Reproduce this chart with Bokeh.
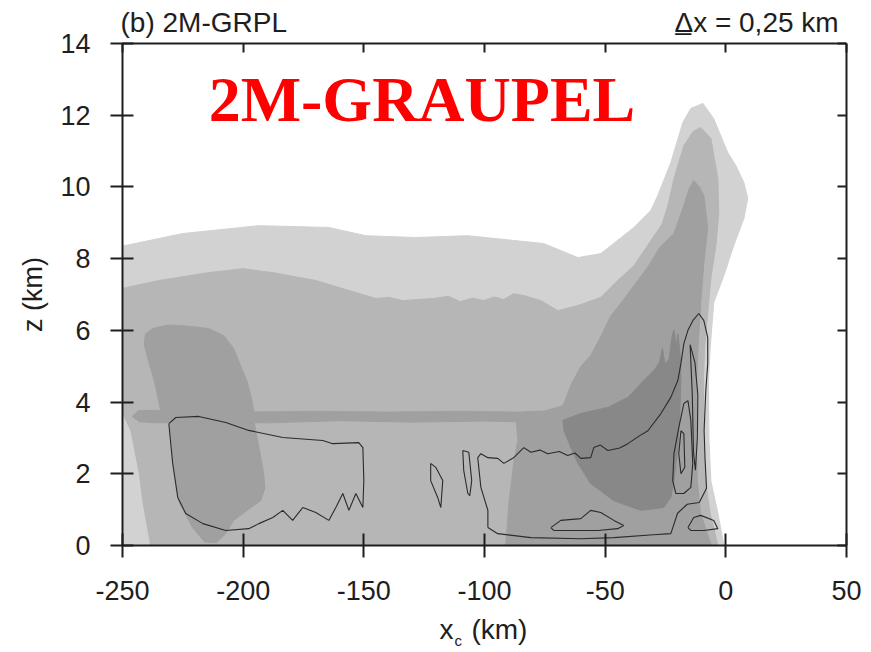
from bokeh.plotting import figure
from bokeh.models import Range1d, FixedTicker, LinearAxis, Label, CustomLabelingPolicy
from bokeh.embed import file_html
from bokeh.resources import INLINE

# ---- axes ----
x_ticks = [-250, -200, -150, -100, -50, 0, 50]
x_tick_labels = ["-250", "-200", "-150", "-100", "-50", "0", "50"]
z_ticks = [0, 2, 4, 6, 8, 10, 12, 14]
z_tick_labels = ["0", "2", "4", "6", "8", "10", "12", "14"]
x_lim = (-250, 50)
z_lim = (0, 14)

# ---- shaded hydrometeor regions (x_c in km, z in km) ----
# lightest shading: outer envelope
light_x = [-250, -250, -225.0, -193.5, -164.5, -149.2, -128.5, -106.9, -75.4, -61.3, -51.8,
           -38.1, -31.1, -28.2, -22.8, -17.8, -14.5, -9.5, -5.0, 0.8, 4.1, 7.5, 9.1, 7.5,
           3.3, -0.8, -5.0, -6.5, -7.2, -7.0, -6.2, -3.3, -0.8]
light_z = [0, 8.35, 8.70, 8.92, 8.87, 8.64, 8.59, 8.64, 8.42, 8.03, 8.14,
           8.87, 9.34, 9.76, 10.68, 11.80, 12.19, 12.33, 11.90, 10.96, 10.60, 10.12, 9.68, 9.12,
           8.37, 7.53, 6.78, 5.5, 4.6, 3.0, 1.8, 0.9, 0]

# second shading
mid_x = [-250, -235.0, -214.3, -200.2, -187.7, -169.9, -156.2, -145.0, -139.7, -133.9, -121.0,
         -115.0, -110.0, -105.0, -100.3, -96.0, -92.0, -88.0, -83.7, -76.7, -69.6, -61.3, -51.8,
         -44.8, -38.1, -31.1, -26.5, -24.0, -21.5, -17.4, -13.5, -10.4, -6.2, -3.3, -2.9, -4.1,
         -6.2, -7.5, -8.8, -9.3, -9.2, -8.5, -6.5, -3.3, -238.3, -241.5, -243.0, -246.5, -250]
mid_z = [7.17, 7.39, 7.61, 7.72, 7.61, 7.39, 7.11, 6.89, 6.92, 6.83, 6.89,
         6.95, 6.80, 6.90, 6.83, 6.93, 6.86, 7.02, 6.97, 6.83, 6.55, 6.69, 6.92,
         7.39, 7.80, 8.50, 8.95, 9.48, 10.23, 11.15, 11.55, 11.66, 11.35, 10.23, 9.29, 8.37,
         7.45, 6.5, 5.5, 4.6, 3.0, 1.8, 0.9, 0, 0, 1.2, 2.0, 3.2, 3.7]

# third shading: upper-left blob, lower-left blob, melting band and leading column
blob_up_x = [-234.0, -236.5, -239.0, -241.0, -240.5, -237.5, -231.0, -225.0, -214.3, -208.0,
             -204.0, -201.0, -198.5, -196.5, -195.5]
blob_up_z = [3.7, 4.5, 5.1, 5.6, 5.9, 6.05, 6.15, 6.13, 6.05, 5.85, 5.5, 5.0, 4.6, 4.1, 3.7]

blob_low_x = [-230.5, -229.5, -228.8, -226.5, -221.0, -216.0, -211.0, -207.0, -204.0, -198.0,
              -192.7, -191.0, -191.5, -192.7, -194.0, -195.6]
blob_low_z = [3.5, 2.8, 2.2, 1.2, 0.5, 0.1, 0.08, 0.35, 0.7, 1.0, 1.25, 1.6, 2.0, 2.45, 2.93, 3.5]

dark_x = [-91.2, -89.9, -87.9, -86.2, -86.8, -100, -130, -160, -190, -215, -235, -243, -246,
          -243.5, -225, -200, -170, -140, -110, -85, -75, -67.5, -64, -60, -56, -52, -47.7, -43,
          -38, -32, -27.5, -21.5, -17.4, -15.2, -13.3, -11.0, -9.1, -7.5, -9.1, -10.4, -11.5,
          -12.2, -12.3, -11.8, -10.5, -6.0]
dark_z = [0, 1.17, 2.29, 2.93, 3.45, 3.47, 3.44, 3.48, 3.42, 3.45, 3.42, 3.45, 3.6,
          3.76, 3.78, 3.72, 3.74, 3.72, 3.74, 3.72, 3.75, 3.9, 4.5, 5.0, 5.3, 5.8, 6.4, 6.8,
          7.25, 7.8, 8.3, 8.7, 9.48, 9.95, 10.18, 10.0, 9.76, 8.84, 7.89, 6.78, 5.5,
          4.5, 3.0, 1.8, 0.9, 0]

# darkest shading: core below the leading edge
core_x = [-67.5, -60.1, -48.9, -40.6, -34.0, -29.8, -27.5, -26.3, -25.2, -23.5, -22.2, -21.5,
          -20.5, -19.8, -18.8, -18.6, -19.2, -19.9, -21.5, -22.8, -25.7, -35.2, -46.4, -56.0,
          -61.3, -64.2, -67.1]
core_z = [3.49, 3.68, 3.85, 4.13, 4.6, 4.88, 5.1, 5.5, 5.05, 5.2, 5.85, 6.0,
          5.6, 5.9, 5.2, 4.6, 3.5, 2.73, 1.81, 1.34, 1.06, 0.98, 1.25, 1.73,
          2.29, 2.73, 3.21]

# ---- contour lines ----
cont_a_x = [-230.8, -227.9, -218.4, -207.2, -197.7, -183.6, -167.0, -162.9, -152.1, -150.4,
            -150.0, -150.4, -153.3, -156.2, -158.7, -161.6, -164.5, -169.9, -175.3, -179.5,
            -183.6, -187.7, -193.5, -197.7, -207.2, -216.7, -223.8, -227.1, -229.2, -230.8]
cont_a_z = [3.40, 3.57, 3.60, 3.43, 3.21, 3.01, 2.93, 2.84, 2.87, 2.73,
            1.81, 1.06, 1.45, 0.98, 1.45, 1.06, 0.70, 0.92, 1.06, 0.70,
            0.98, 0.78, 0.61, 0.47, 0.42, 0.61, 0.89, 1.34, 2.29, 3.40]

cont_b_x = [-122.3, -120.2, -117.3, -118.1, -119.4, -122.3, -122.3]
cont_b_z = [2.29, 2.18, 1.81, 1.06, 1.34, 1.81, 2.29]

cont_c_x = [-109.0, -106.5, -105.3, -106.1, -106.9, -108.6, -109.0]
cont_c_z = [2.65, 2.60, 1.81, 1.39, 1.45, 2.09, 2.65]

cont_d_x = [-98.6, -94.5, -80.8, -60.1, -46.4, -30.0, -22.8, -20.0, -16.0, -11.0, -8.0, -8.6,
            -9.0, -8.3, -7.5, -7.5, -9.1, -11.2, -13.7, -15.7, -17.4, -18.6, -19.9, -22.8,
            -26.9, -32.3, -36.0, -40.6, -44.0, -48.9, -52.0, -54.7, -56.0, -60.1, -62.5, -65.5,
            -69.0, -73.8, -77.0, -80.8, -83.7, -87.9, -92.0, -94.5, -98.6, -101.5, -102.8,
            -101.5, -98.6, -98.6]
cont_d_z = [0.50, 0.33, 0.22, 0.19, 0.22, 0.30, 0.33, 0.90, 1.15, 1.20, 1.60, 2.40,
            3.21, 4.32, 5.08, 5.80, 6.27, 6.47, 6.27, 6.00, 5.63, 5.08, 4.60, 4.13,
            3.68, 3.20, 3.05, 2.84, 2.72, 2.65, 2.80, 2.73, 2.45, 2.43, 2.58, 2.51,
            2.62, 2.56, 2.66, 2.60, 2.73, 2.45, 2.29, 2.43, 2.45, 2.56, 2.45,
            1.62, 0.98, 0.50]

cont_e_x = [-72.5, -68.4, -60.1, -56.0, -51.8, -46.4, -42.3, -44.8, -53.0, -65.5, -71.3, -72.5]
cont_e_z = [0.50, 0.70, 0.75, 0.98, 0.92, 0.70, 0.56, 0.47, 0.42, 0.42, 0.42, 0.50]

cont_f_x = [-15.7, -13.3, -10.4, -5.0, -3.3, -9.1, -14.5, -15.7]
cont_f_z = [0.50, 0.78, 0.84, 0.70, 0.47, 0.42, 0.42, 0.50]

cont_h_x = [-17.4, -15.7, -14.5, -13.7, -14.5, -17.4, -20.7, -22.0, -21.5, -19.5, -17.4]
cont_h_z = [3.96, 4.04, 3.49, 2.29, 1.62, 1.45, 1.45, 1.81, 2.56, 3.29, 3.96]

cont_i_x = [-18.6, -17.4, -17.0, -18.6, -19.5, -18.6]
cont_i_z = [3.20, 3.12, 2.18, 2.00, 2.56, 3.20]

cont_j_x = [-14.8, -12.8, -11.6, -11.8, -12.6, -13.4, -13.9, -14.8]
cont_j_z = [5.60, 5.10, 4.20, 3.00, 2.10, 2.60, 4.20, 5.60]

# ---- page geometry (pixels) ----
W, H = 871, 652
LEFT, RIGHT, TOP, BOTTOM = 122, 846, 43, 545      # edges of the data box
kx = (RIGHT - LEFT) / (x_lim[1] - x_lim[0])      # px per km
kz = (BOTTOM - TOP) / (z_lim[1] - z_lim[0])

# the canvas is the frame; axes are pinned to the data box edges
x_range = Range1d(x_lim[0] - LEFT / kx, x_lim[1] + (W - RIGHT) / kx)
y_range = Range1d(z_lim[0] - (H - BOTTOM) / kz, z_lim[1] + TOP / kz)

FONT = "Liberation Sans"
INK = "#1e1e1e"

p = figure(width=W, height=H, x_range=x_range, y_range=y_range,
           x_axis_location=None, y_axis_location=None,
           output_backend="svg", toolbar_location=None,
           min_border=0, min_border_left=0, min_border_right=0,
           min_border_top=0, min_border_bottom=0)
p.background_fill_color = "white"
p.border_fill_color = "white"
p.outline_line_color = None
p.grid.visible = False

shades = ["#d2d2d2", "#b6b6b6", "#a0a0a0", "#888888"]
p.patch(light_x, light_z, fill_color=shades[0], line_color=shades[0], line_width=1)
p.patch(mid_x, mid_z, fill_color=shades[1], line_color=shades[1], line_width=1)
for xs, zs in [(blob_up_x, blob_up_z), (blob_low_x, blob_low_z), (dark_x, dark_z)]:
    p.patch(xs, zs, fill_color=shades[2], line_color=shades[2], line_width=1)
p.patch(core_x, core_z, fill_color=shades[3], line_color=shades[3], line_width=1)

for xs, zs in [(cont_a_x, cont_a_z), (cont_b_x, cont_b_z), (cont_c_x, cont_c_z),
               (cont_d_x, cont_d_z), (cont_e_x, cont_e_z), (cont_f_x, cont_f_z),
               (cont_h_x, cont_h_z), (cont_i_x, cont_i_z), (cont_j_x, cont_j_z)]:
    p.line(xs, zs, line_color="#2b2b2b", line_width=1.1)

# tick marks only, no labels, on the top and right edges
no_labels = CustomLabelingPolicy(code="""
const n = indices.size
for (let i = 0; i < n; i++) indices.set(i, false)
return indices
""")


def make_axis(ticks, labels, bounds, where, tick_in, tick_out, show_labels, standoff=0):
    ax = LinearAxis(ticker=FixedTicker(ticks=ticks), fixed_location=where, bounds=bounds)
    ax.axis_line_color = INK
    ax.axis_line_width = 2
    ax.major_tick_line_color = INK
    ax.major_tick_line_width = 2
    ax.major_tick_in = tick_in
    ax.major_tick_out = tick_out
    ax.minor_tick_line_color = None
    ax.major_label_text_font = FONT
    ax.major_label_text_color = INK
    ax.major_label_text_font_size = "27px"
    ax.major_label_standoff = standoff
    if show_labels:
        ax.major_label_overrides = dict(zip(ticks, labels))
    else:
        ax.major_label_policy = no_labels
    return ax


bottom_ax = make_axis(x_ticks, x_tick_labels, x_lim, z_lim[0], 12, 12, True, standoff=23)
left_ax = make_axis(z_ticks, z_tick_labels, z_lim, x_lim[0], 11, 12, True, standoff=20)
left_ax.axis_label = "z (km)"
left_ax.axis_label_text_font = FONT
left_ax.axis_label_text_font_size = "27px"
left_ax.axis_label_text_font_style = "normal"
left_ax.axis_label_text_color = INK
left_ax.axis_label_standoff = 9
top_ax = make_axis(x_ticks, None, x_lim, z_lim[1], 9, 0, False)
right_ax = make_axis(z_ticks, None, z_lim, x_lim[1], 9, 0, False)
p.add_layout(bottom_ax, "below")
p.add_layout(left_ax, "left")
p.add_layout(top_ax, "above")
p.add_layout(right_ax, "right")


# ---- text ----
def label(x, y, text, size_px, dx=0, dy=0, font=FONT, color=INK, style="normal"):
    # dy is the wanted baseline shift in px; the glyph box sits about 0.35 em low
    p.add_layout(Label(x=x, y=y, x_offset=dx, y_offset=dy + 0.35 * size_px, text=text,
                       text_font=font, text_font_size=f"{size_px}px",
                       text_font_style=style, text_color=color,
                       text_align="left", text_baseline="alphabetic"))


label(x_lim[0], z_lim[1], "(b) 2M-GRPL", 28, dx=-2, dy=11)
label(-21.3, z_lim[1], "\u0394x = 0,25 km", 28, dy=11)
label(-21.3, z_lim[1], "_", 28, dx=1, dy=14)
label(-118.6, z_lim[0], "x", 28, dy=-94)
label(-112.4, z_lim[0], "c", 15, dy=-100)
label(-105.4, z_lim[0], "(km)", 28, dy=-94)
label(-214.3, 11.8, "2M-GRAUPEL", 64, font="Liberation Serif", color="#ff0000",
      style="bold")

open("out.html", "w").write(file_html(p, INLINE))
